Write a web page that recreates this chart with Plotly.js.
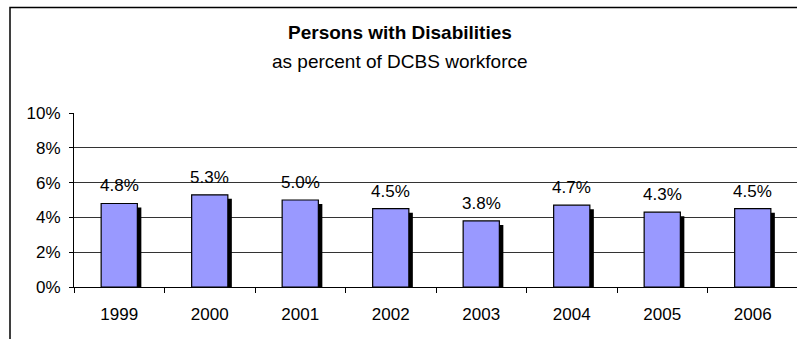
<!DOCTYPE html>
<html>
<head>
<meta charset="utf-8">
<script src="https://cdn.plot.ly/plotly-3.0.1.min.js"></script>
<style>
html,body{margin:0;padding:0;overflow:hidden;background:#fff;}
#chart{width:798px;height:339px;}
</style>
</head>
<body>
<div id="chart"></div>
<script>
const years = ['1999','2000','2001','2002','2003','2004','2005','2006'];
const percents = [4.8, 5.3, 5.0, 4.5, 3.8, 4.7, 4.3, 4.5];
const labels = ['4.8%','5.3%','5.0%','4.5%','3.8%','4.7%','4.3%','4.5%'];
const titleText = '<b>Persons with Disabilities</b>';
const subtitleText = 'as percent of DCBS workforce';

const FONT = 'Liberation Sans, Arial, sans-serif';
const W = 798, H = 339;
const ML = 74, MR = 0, MT = 113, MB = 52;
const plotW = W - ML - MR, plotH = H - MT - MB;
const yMax = 10;
const pxPerUnit = plotH / yMax;
const shadowPx = 4;
const catPx = plotW / years.length;

const shadow = {
  type: 'bar', x: years,
  y: percents.map(v => v - shadowPx / pxPerUnit),
  width: 0.4, offset: -0.2 + shadowPx / catPx,
  marker: {color: '#000000', line: {width: 0}},
  hoverinfo: 'skip', showlegend: false
};
const bars = {
  type: 'bar', x: years, y: percents,
  width: 0.4, offset: -0.2,
  marker: {color: '#9999FF', line: {color: '#000000', width: 1.2}},
  showlegend: false
};

const annotations = years.map((yr, i) => ({
  x: i, y: percents[i], xref: 'x', yref: 'y',
  text: labels[i], showarrow: false, yanchor: 'bottom', yshift: 6,
  font: {family: FONT, size: 17, color: '#000'}
}));
annotations.push({
  xref: 'paper', yref: 'paper', x: (400 - ML) / plotW, y: (H - MB - 33) / plotH,
  text: titleText, showarrow: false, xanchor: 'center', yanchor: 'middle',
  font: {family: FONT, size: 19, color: '#000'}
});
annotations.push({
  xref: 'paper', yref: 'paper', x: (400 - ML) / plotW, y: (H - MB - 62) / plotH,
  text: subtitleText, showarrow: false, xanchor: 'center', yanchor: 'middle',
  font: {family: FONT, size: 19, color: '#000'}
});

const layout = {
  width: W, height: H,
  margin: {l: ML, r: MR, t: MT, b: MB, pad: 0},
  paper_bgcolor: '#fff', plot_bgcolor: '#fff',
  barmode: 'overlay',
  font: {family: FONT, size: 17, color: '#000'},
  xaxis: {
    type: 'category', range: [-0.5, years.length - 0.5], autorange: false,
    tickson: 'boundaries', ticks: 'outside', ticklen: 5, ticklabelstandoff: 12,
    tickcolor: '#000', showline: true, linecolor: '#000', linewidth: 1,
    showgrid: false, tickfont: {family: FONT, size: 17, color: '#000'},
    fixedrange: true
  },
  yaxis: {
    range: [0, yMax], autorange: false, dtick: 2, ticksuffix: '%', ticks: 'outside', ticklen: 4,
    ticklabelstandoff: 5,
    tickcolor: '#000', showline: true, linecolor: '#000', linewidth: 1,
    showgrid: true, gridcolor: '#333', gridwidth: 1, zeroline: false,
    tickfont: {family: FONT, size: 17, color: '#000'}, fixedrange: true
  },
  shapes: [{
    type: 'rect', xref: 'paper', yref: 'paper',
    x0: (10 - ML) / plotW, x1: 1.5,
    y0: -0.5, y1: (H - MB - 7.5) / plotH,
    line: {color: '#000', width: 1.5}, fillcolor: 'rgba(0,0,0,0)', layer: 'below'
  }],
  annotations: annotations
};

Plotly.newPlot('chart', [shadow, bars], layout, {displayModeBar: false, staticPlot: true});
</script>
</body>
</html>
